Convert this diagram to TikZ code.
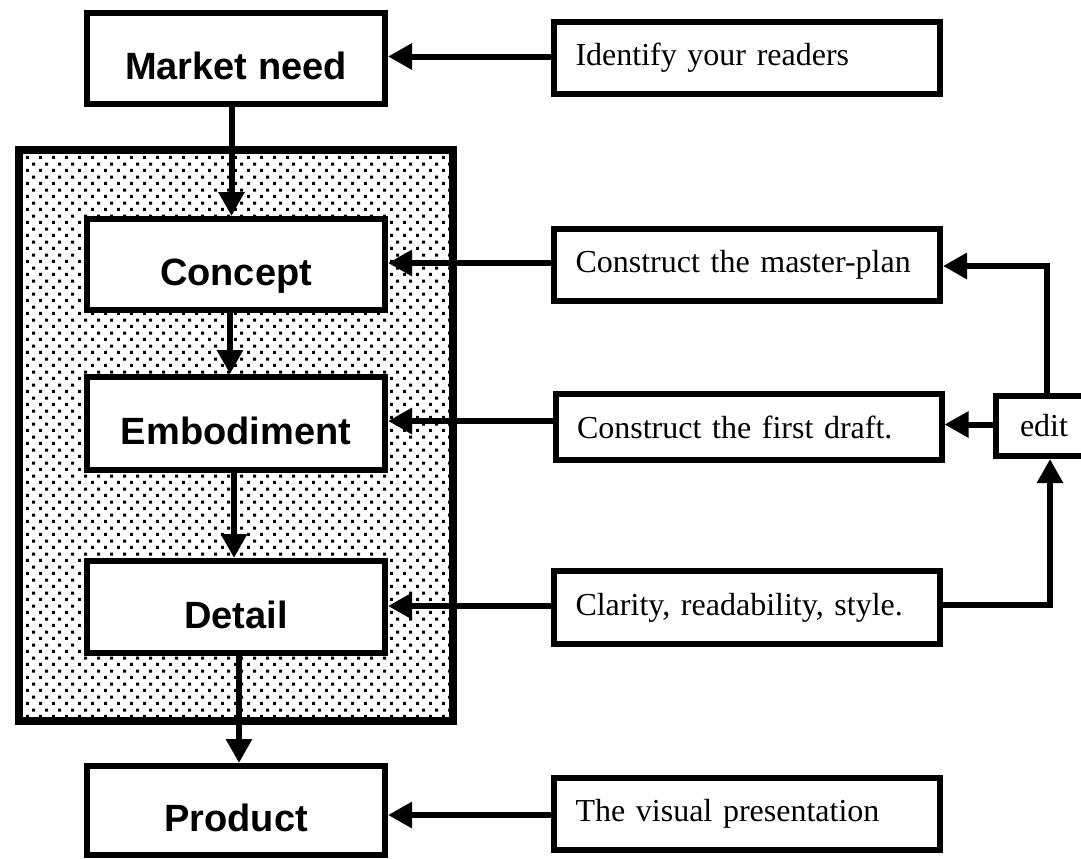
\documentclass[tikz,border=0pt]{standalone}
\usepackage{fontspec}
\setmainfont{Liberation Serif}
\newfontfamily\boxfont{Liberation Sans}
\usetikzlibrary{arrows.meta,patterns.meta,calc}

\tikzdeclarepattern{
  name=stipple,
  type=uncolored,
  bounding box={(0pt,0pt) and (6.5pt,6.4pt)},
  tile size={(6.5pt,6.4pt)},
  code={
    \fill (0pt,0pt) rectangle (1.6pt,1.6pt);
    \fill (3.25pt,3.2pt) rectangle (4.85pt,4.8pt);
  }
}

\tikzset{
  stage/.style={draw=black, fill=white, line width=3pt, minimum width=149pt,
    minimum height=45.5pt, inner sep=0pt, font=\boxfont\fontsize{19}{22}\selectfont\bfseries,
    text height=21pt, text depth=0pt},
  task/.style={draw=black, fill=white, line width=3pt, text width=171.5pt,
    minimum height=32.5pt, inner sep=10.75pt, align=left,
    font=\fontsize{16}{19}\selectfont},
  flow/.style={line width=3pt, -{Triangle[length=12pt,width=12.5pt]}},
}

\begin{document}
\begin{tikzpicture}[x=0.5pt,y=-0.5pt]
  \useasboundingbox (0,0) rectangle (1081,858);
  \clip (0,0) rectangle (1081,858);

  % design phase
  \draw[line width=4pt, pattern=stipple, pattern color=black] (19,149.5) rectangle (453,721);

  % Stages
  \node[stage] (need) at (236,58.5) {Market need};
  \node[stage] (concept) at (236,264.5) {Concept};
  \node[stage, minimum height=46.5pt] (embod) at (236,423.5) {Embodiment};
  \node[stage, minimum height=46pt] (detail) at (236,607) {Detail};
  \node[stage, minimum height=44.5pt] (product) at (236,810.5) {Product};

  % Writing tasks
  \node[task] (readers) at (747,58) {Identify your readers};
  \node[task, minimum height=33pt] (plan) at (747,265) {Construct the master-plan};
  \node[task, minimum height=33pt] (draft) at (748.5,427) {Construct the first draft.};
  \node[task] (clarity) at (747,607.5) {Clarity, readability, style.};
  \node[task] (visual) at (747,814) {The visual presentation};
  \node[draw=black, fill=white, line width=3pt, minimum width=48pt, minimum height=30pt,
    inner sep=0pt, font=\fontsize{16}{19}\selectfont] (edit) at (1044,426) {edit};

  % Stage flow
  \draw[flow] ([xshift=-2.25pt]need.south) -- ([xshift=-2.25pt]concept.north);
  \draw[flow] ([xshift=-3pt]concept.south) -- ([xshift=-3pt]embod.north);
  \draw[flow] ([xshift=-1pt]embod.south) -- ([xshift=-1pt]detail.north);
  \draw[flow] ([xshift=1.5pt]detail.south) -- ([xshift=1.5pt]product.north);

  % Tasks -> stages
  \draw[flow] ([yshift=0.75pt]readers.west) -- ([yshift=0.75pt]readers.west -| need.east);
  \draw[flow] ([yshift=1pt]plan.west) -- ([yshift=1pt]plan.west -| concept.east);
  \draw[flow] ([yshift=3pt]draft.west) -- ([yshift=3pt]draft.west -| embod.east);
  \draw[flow] ([yshift=0.75pt]clarity.west) -- ([yshift=0.75pt]clarity.west -| detail.east);
  \draw[flow] ([yshift=-0.5pt]visual.west) -- ([yshift=-0.5pt]visual.west -| product.east);

  % Edit loop
  \draw[flow] ([yshift=1.25pt]clarity.east) -| ([xshift=3pt]edit.south);
  \draw[flow] ([yshift=0.75pt]edit.west) -- ([yshift=0.75pt]edit.west -| draft.east);
  \draw[flow] ([xshift=1.5pt]edit.north) |- ([yshift=-0.5pt]plan.east);

\end{tikzpicture}
\end{document}
